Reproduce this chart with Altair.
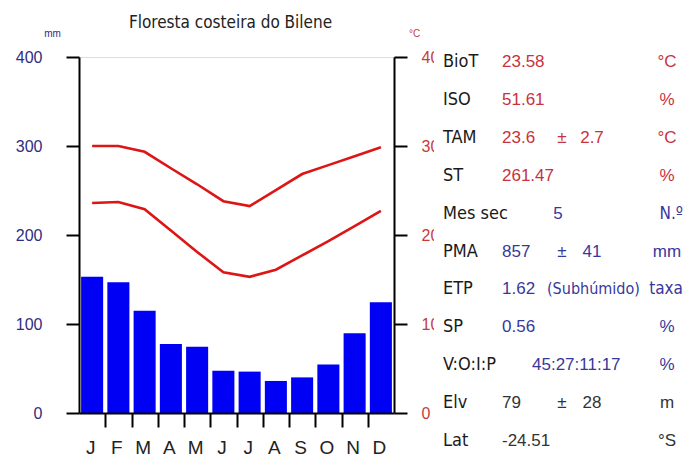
import altair as alt
import pandas as pd

# ---- data ----
title_text = "Floresta costeira do Bilene"
months = ["Jan", "Fev", "Mar", "Abr", "Mai", "Jun", "Jul", "Ago", "Set", "Out", "Nov", "Dez"]
precip = [153, 147, 115, 77.5, 74.5, 47.5, 46.5, 36, 40, 54.5, 89.5, 124.5]
tmax = [30.0, 30.0, 29.35, 27.5, 25.7, 23.8, 23.25, 25.05, 26.85, 27.85, 28.85, 29.85]
tmin = [23.6, 23.7, 22.9, 20.5, 18.1, 15.8, 15.3, 16.1, 17.7, 19.3, 21.0, 22.7]

stat_labels = ["BioT", "ISO", "TAM", "ST", "Mes sec", "PMA", "ETP", "SP", "V:O:I:P", "Elv", "Lat"]
stat_values = ["23.58", "51.61", "23.6", "261.47", "5", "857", "1.62", "0.56", "45:27:11:17", "79", "-24.51"]
stat_sd = ["", "", "2.7", "", "", "41", "", "", "", "28", ""]
stat_units = ["°C", "%", "°C", "%", "N.º", "mm", "taxa", "%", "%", "m", "°S"]
etp_class = "(Subhúmido)"

# ---- styles ----
NARROW = "DejaVu Sans Condensed, Liberation Sans Narrow, Roboto"
ARIAL = "Liberation Sans, Arial"
RED = "#c8323c"
BLUE = "#38389c"
DARK = "#333333"
LINE_RED = "#dd1515"
group_colors = [RED] * 4 + [BLUE] * 5 + [DARK] * 2

bars_df = pd.DataFrame({"month": months, "precip": precip})
temp_df = pd.DataFrame({
    "month": months * 2,
    "temp": tmax + tmin,
    "series": ["max"] * 12 + ["min"] * 12,
})
stats_df = pd.DataFrame({
    "row": list(range(len(stat_labels))),
    "label": stat_labels,
    "value": stat_values,
    "sd": stat_sd,
    "unit": stat_units,
    "col": group_colors,
})
stats_df["pm"] = ["±" if s else "" for s in stat_sd]

xscale = alt.Scale(paddingInner=0.16, paddingOuter=0.08)
x_enc = alt.X(
    "month:N", sort=months, scale=xscale, title=None,
    axis=alt.Axis(
        labelExpr="substring(datum.label, 0, 1)", labelAngle=0,
        labelFont=ARIAL, labelFontSize=19, labelColor="#222222", labelPadding=11,
        bandPosition=0, tickExtra=False, tickOffset=-2,
        tickSize=14, tickWidth=2, tickColor="black",
        tickOpacity=alt.condition("datum.value == 'Jan'", alt.value(0), alt.value(1)),
        domainColor="black", domainWidth=2, zindex=1,
    ),
)

bars = alt.Chart(bars_df).mark_bar(color="#0000f5").encode(
    x=x_enc,
    y=alt.Y(
        "precip:Q", scale=alt.Scale(domain=[0, 400], nice=False),
        axis=alt.Axis(
            values=[0, 100, 200, 300, 400], orient="left", grid=False,
            labelFont=ARIAL, labelFontSize=16, labelColor="#2e2e80", labelPadding=24,
            tickSize=13, tickWidth=2, tickColor="black",
            domainColor="black", domainWidth=2, zindex=1,
            title="mm", titleAngle=0, titleX=-27, titleY=-24, titleAlign="center",
            titleBaseline="middle", titleFont=ARIAL, titleFontSize=10,
            titleFontWeight="normal", titleColor="#2e2e80",
        ),
    ),
)

lines = alt.Chart(temp_df).mark_line(color=LINE_RED, strokeWidth=2.6).encode(
    x=alt.X("month:N", sort=months),
    y=alt.Y(
        "temp:Q", scale=alt.Scale(domain=[0, 40], nice=False),
        axis=alt.Axis(
            values=[0, 10, 20, 30, 40], orient="right", grid=False,
            labelFont=ARIAL, labelFontSize=16, labelColor="#c83a3a", labelPadding=14,
            tickSize=13, tickWidth=2, tickColor="black",
            domainColor="black", domainWidth=2, zindex=0,
            title="°C", titleAngle=0, titleX=20, titleY=-24, titleAlign="center",
            titleBaseline="middle", titleFont=ARIAL, titleFontSize=10,
            titleFontWeight="normal", titleColor="#c83a3a",
        ),
    ),
    detail="series:N",
)

row_y = alt.Y("row:Q", scale=alt.Scale(domain=[0, 10], range=[5, 384], nice=False, zero=False), axis=None)

cover = alt.Chart(pd.DataFrame({"k": [0]})).mark_rect(color="white").encode(
    x=alt.value(355), x2=alt.value(620), y=alt.value(-25), y2=alt.value(410)
)

labels = alt.Chart(stats_df).mark_text(
    align="left", baseline="middle", font=NARROW, fontSize=18, color="#1a1a1a"
).encode(x=alt.value(364), y=row_y, text="label:N")

main_vals = alt.Chart(stats_df).transform_filter(
    "datum.label != 'Mes sec' && datum.label != 'V:O:I:P'"
).mark_text(align="left", baseline="middle", font=ARIAL, fontSize=17).encode(
    x=alt.value(423), y=row_y, text="value:N", color=alt.Color("col:N", scale=None)
)

mes_val = alt.Chart(stats_df).transform_filter("datum.label == 'Mes sec'").mark_text(
    align="center", baseline="middle", font=ARIAL, fontSize=17
).encode(x=alt.value(479), y=row_y, text="value:N", color=alt.Color("col:N", scale=None))

voip_val = alt.Chart(stats_df).transform_filter("datum.label == 'V:O:I:P'").mark_text(
    align="left", baseline="middle", font=ARIAL, fontSize=17
).encode(x=alt.value(453), y=row_y, text="value:N", color=alt.Color("col:N", scale=None))

pm = alt.Chart(stats_df).transform_filter("datum.pm != ''").mark_text(
    align="center", baseline="middle", font=ARIAL, fontSize=17
).encode(x=alt.value(483), y=row_y, text="pm:N", color=alt.Color("col:N", scale=None))

sd = alt.Chart(stats_df).transform_filter("datum.sd != ''").mark_text(
    align="center", baseline="middle", font=ARIAL, fontSize=17
).encode(x=alt.value(513), y=row_y, text="sd:N", color=alt.Color("col:N", scale=None))

units_std = alt.Chart(stats_df).transform_filter(
    "datum.unit != 'N.º' && datum.unit != 'taxa'"
).mark_text(align="center", baseline="middle", font=ARIAL, fontSize=17).encode(
    x=alt.value(588), y=row_y, text="unit:N", color=alt.Color("col:N", scale=None)
)

units_narrow = alt.Chart(stats_df).transform_filter(
    "datum.unit == 'N.º' || datum.unit == 'taxa'"
).mark_text(align="right", baseline="middle", font=NARROW, fontSize=17).encode(
    x=alt.value(604), y=row_y, text="unit:N", color=alt.Color("col:N", scale=None)
)

etp_note = alt.Chart(stats_df).transform_filter("datum.label == 'ETP'").transform_calculate(
    note=f"'{etp_class}'"
).mark_text(align="left", baseline="middle", font=NARROW, fontSize=16).encode(
    x=alt.value(468), y=row_y, text="note:N", color=alt.Color("col:N", scale=None)
)

panel = alt.layer(cover, labels, main_vals, mes_val, voip_val, pm, sd, units_std, units_narrow, etp_note)

chart = alt.layer(bars, lines, panel).resolve_scale(y="independent").properties(
    width=315,
    height=356,
    padding={"left": 71, "top": 49, "right": 295, "bottom": 45},
    autosize=alt.AutoSizeParams(type="none"),
    title=alt.TitleParams(
        title_text, font=NARROW, fontSize=17, fontWeight="normal", color="#222222",
        anchor="middle", dx=-6, dy=8,
    ),
).configure_view(stroke="black", strokeWidth=2).configure(background="white")

chart.save("out.html", embed_options={"renderer": "svg", "actions": False})
